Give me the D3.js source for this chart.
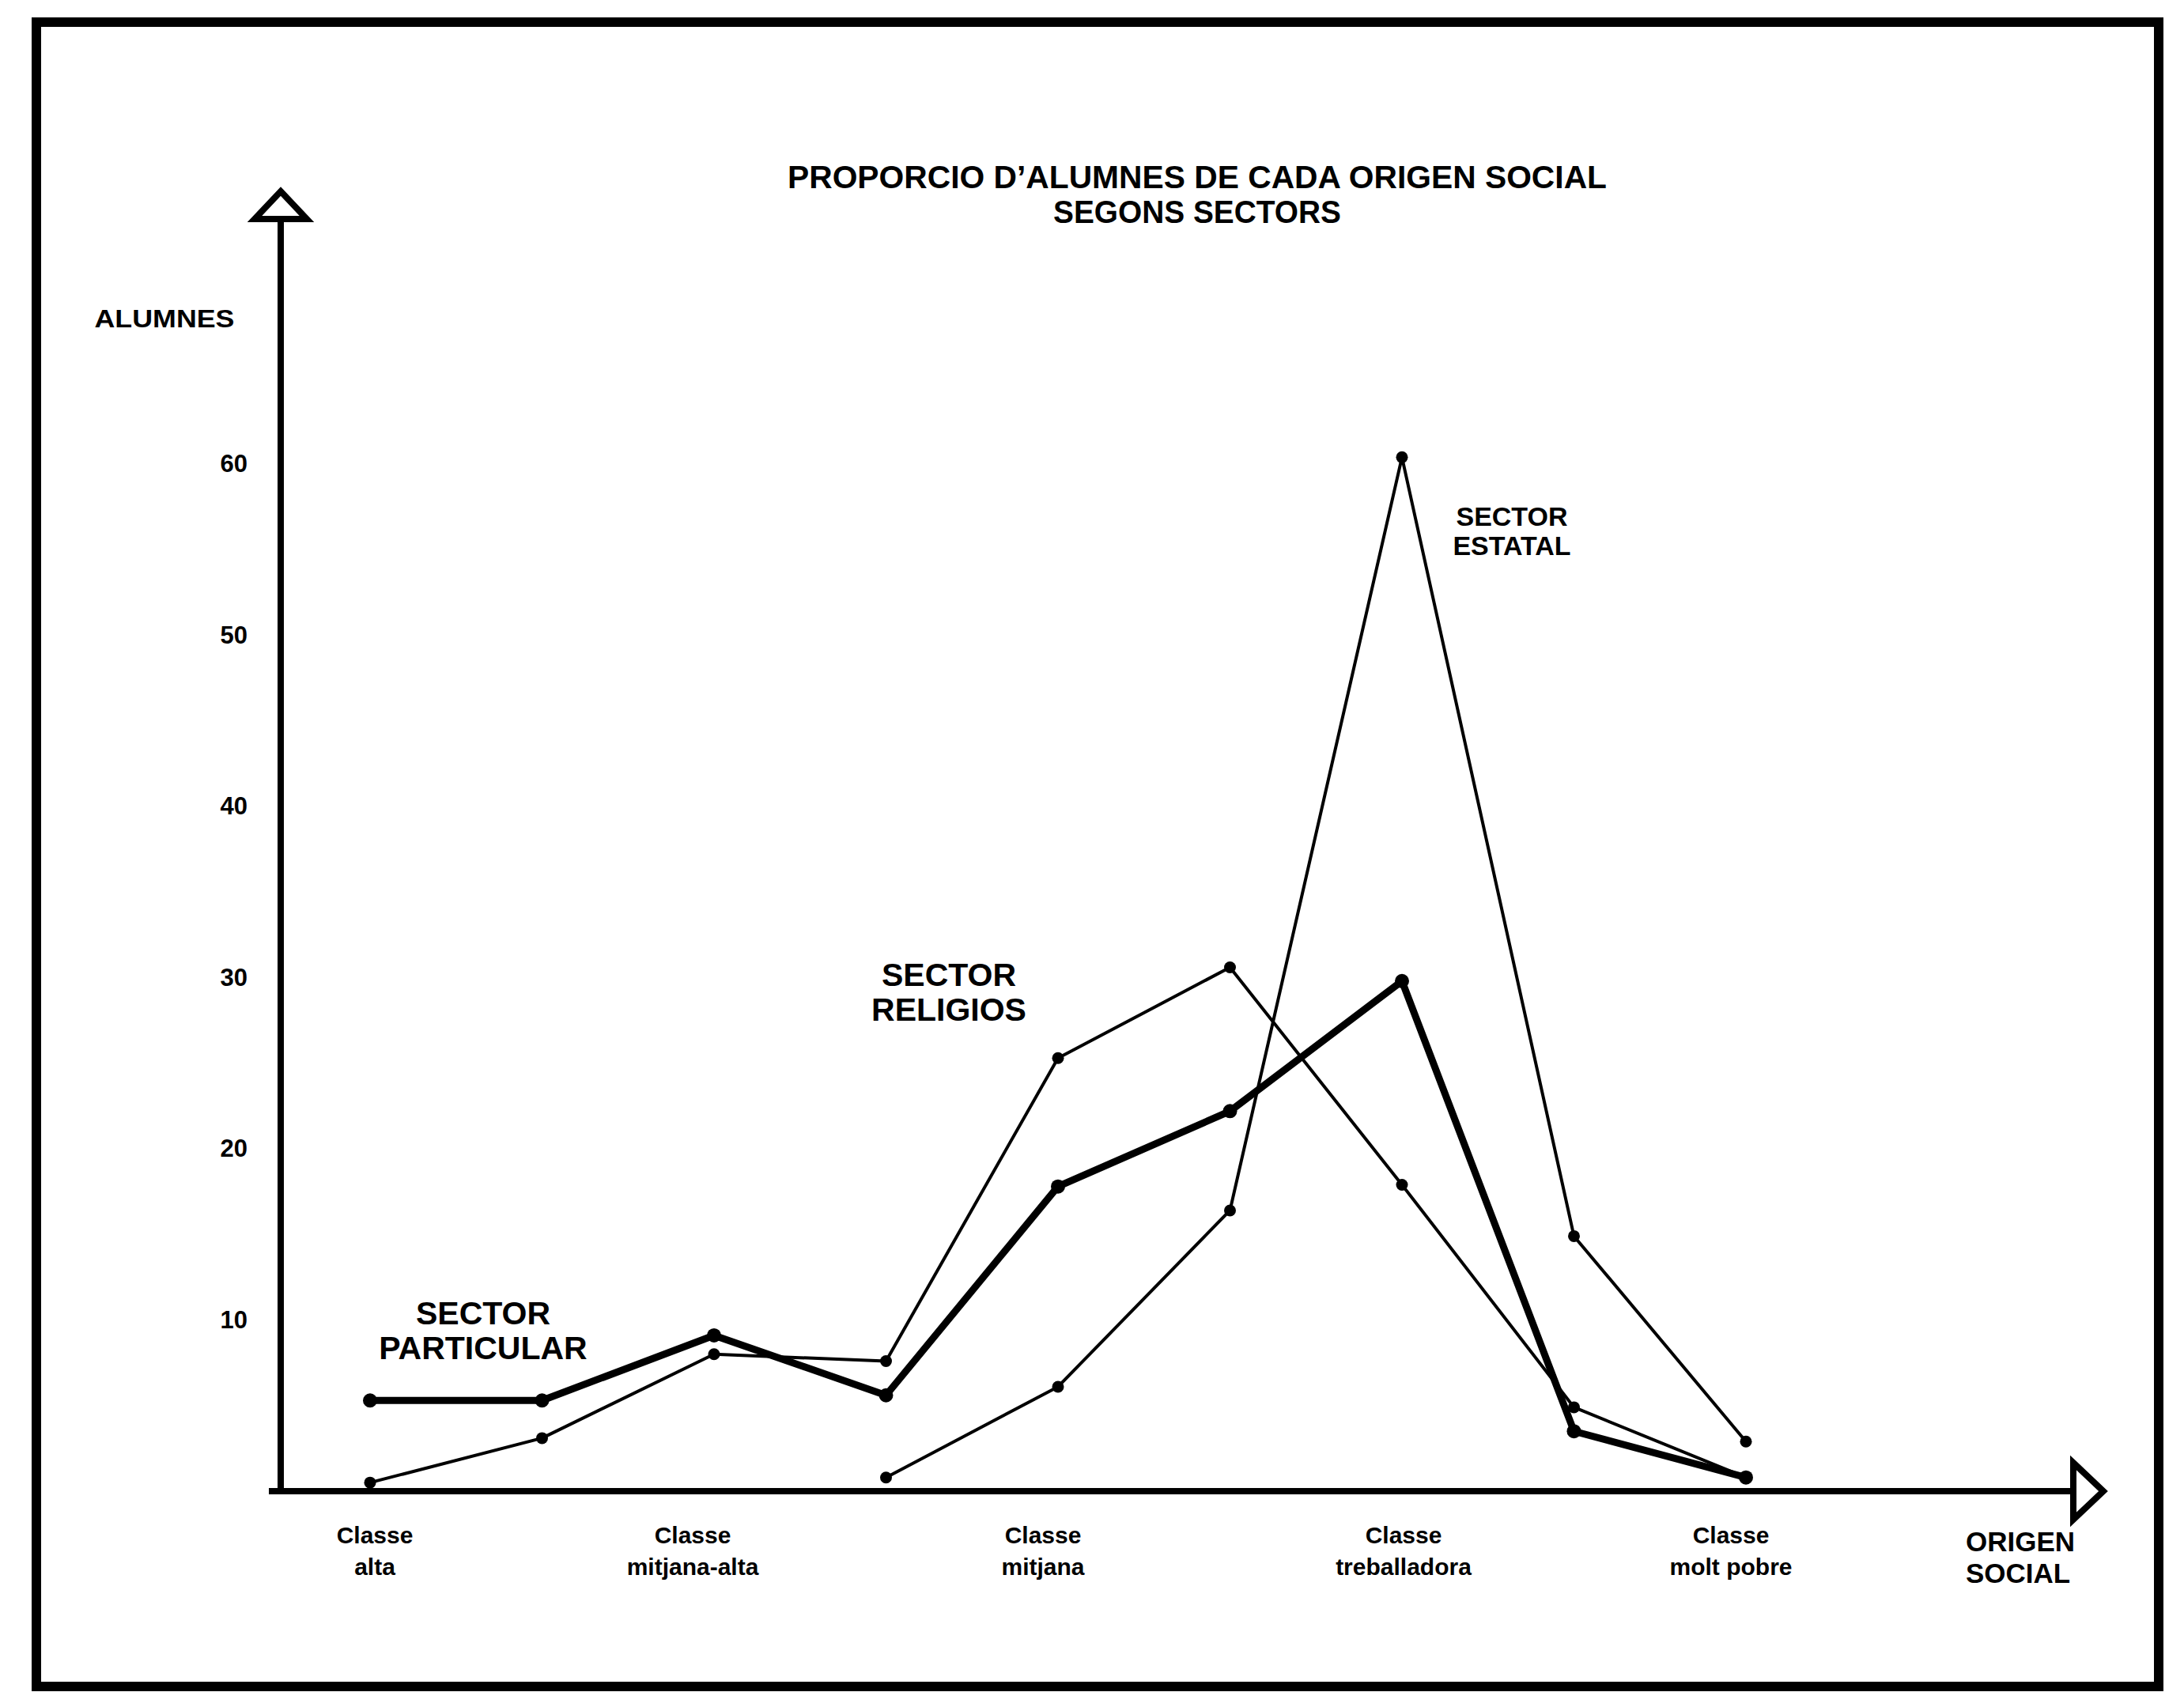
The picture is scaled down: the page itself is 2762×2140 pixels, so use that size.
<!DOCTYPE html>
<html>
<head>
<meta charset="utf-8">
<script src="https://cdn.jsdelivr.net/npm/d3@7"></script>
<style>
  body { margin: 0; background: #fff; }
  text { font-family: "Liberation Sans", Arial, sans-serif; font-weight: bold; fill: #000; }
</style>
</head>
<body>
<div id="chart"></div>
<script>
// 9 steps on the x axis: the five classes and the points between them
const steps = ['alta', 'alta/mitjana-alta', 'mitjana-alta', 'mitjana-alta/mitjana', 'mitjana',
    'mitjana/treballadora', 'treballadora', 'treballadora/molt pobre', 'molt pobre']
const classSteps = ['alta', 'mitjana-alta', 'mitjana', 'treballadora', 'molt pobre']
const classLabels = [['Classe', 'alta'], ['Classe', 'mitjana-alta'], ['Classe', 'mitjana'],
    ['Classe', 'treballadora'], ['Classe', 'molt pobre']]
const yTicks = [10, 20, 30, 40, 50, 60]

const particular = [5.3, 5.3, 9.1, 5.6, 17.8, 22.2, 29.8, 3.5, 0.8]
const religios = [0.5, 3.1, 8.0, 7.6, 25.3, 30.6, 17.9, 4.9, 0.8]
const estatal = [null, null, null, 0.8, 6.1, 16.4, 60.4, 14.9, 2.9]

const width = 2762, height = 2140

const svg = d3.select('#chart').append('svg')
    .attr('width', width)
    .attr('height', height)

svg.append('rect')
    .attr('width', width).attr('height', height)
    .attr('fill', '#fff')

// frame
svg.append('rect')
    .attr('x', 46).attr('y', 28)
    .attr('width', 2684).attr('height', 2105)
    .attr('fill', 'none')
    .attr('stroke', '#000')
    .attr('stroke-width', 12)

const x = d3.scalePoint().domain(steps).range([468, 2208])
const y = d3.scaleLinear().domain([0, 60]).range([1886, 587])

const axisX = 355

// title
svg.append('text')
    .attr('x', 1514).attr('y', 238)
    .attr('text-anchor', 'middle')
    .attr('font-size', 41)
    .attr('textLength', 1036)
    .attr('lengthAdjust', 'spacingAndGlyphs')
    .text('PROPORCIO D’ALUMNES DE CADA ORIGEN SOCIAL')
svg.append('text')
    .attr('x', 1514).attr('y', 282)
    .attr('text-anchor', 'middle')
    .attr('font-size', 41)
    .attr('textLength', 364)
    .attr('lengthAdjust', 'spacingAndGlyphs')
    .text('SEGONS SECTORS')

// y axis line with open arrow
svg.append('line')
    .attr('x1', axisX).attr('x2', axisX)
    .attr('y1', 277).attr('y2', y(0) + 4)
    .attr('stroke', '#000').attr('stroke-width', 8)
svg.append('path')
    .attr('d', `M${axisX},242 L${axisX + 33},277 L${axisX - 33},277 Z`)
    .attr('fill', '#fff').attr('stroke', '#000').attr('stroke-width', 8)

// x axis line with open arrow
svg.append('line')
    .attr('x1', 340).attr('x2', 2622)
    .attr('y1', y(0)).attr('y2', y(0))
    .attr('stroke', '#000').attr('stroke-width', 8)
svg.append('path')
    .attr('d', `M2622,${y(0) - 36} L2660,${y(0)} L2622,${y(0) + 36} Z`)
    .attr('fill', '#fff').attr('stroke', '#000').attr('stroke-width', 8)

// y tick labels
const yAxis = svg.append('g')
    .attr('transform', `translate(${axisX},0)`)
    .call(d3.axisLeft(y).tickValues(yTicks).tickSize(0).tickPadding(42))
yAxis.select('.domain').remove()
yAxis.selectAll('text')
    .attr('font-size', 31)
    .style('font-family', '"Liberation Sans", Arial, sans-serif')
    .style('font-weight', 'bold')

svg.append('text')
    .attr('x', 208).attr('y', 414)
    .attr('text-anchor', 'middle')
    .attr('font-size', 31)
    .attr('textLength', 177)
    .attr('lengthAdjust', 'spacingAndGlyphs')
    .text('ALUMNES')

// class labels, set a little off the points as in the print
const labelShift = [6, -27, -19, 2, -19]
classLabels.forEach((lines, k) => {
    lines.forEach((l, i) => {
        svg.append('text')
            .attr('x', x(classSteps[k]) + labelShift[k])
            .attr('y', 1952 + i * 40)
            .attr('text-anchor', 'middle')
            .attr('font-size', 30)
            .text(l)
    })
})

;['ORIGEN', 'SOCIAL'].forEach((l, i) => {
    svg.append('text')
        .attr('x', 2486).attr('y', 1962 + i * 40)
        .attr('font-size', 35)
        .text(l)
})

// series
const line = d3.line()
    .defined(d => d.v != null)
    .x(d => x(d.step))
    .y(d => y(d.v))

function drawSeries(values, strokeW, r) {
    let pts = values.map((v, i) => ({ step: steps[i], v: v }))
    svg.append('path')
        .datum(pts)
        .attr('d', line)
        .attr('fill', 'none')
        .attr('stroke', '#000')
        .attr('stroke-width', strokeW)
        .attr('stroke-linejoin', 'round')
    svg.append('g')
        .selectAll('circle')
        .data(pts.filter(d => d.v != null))
        .enter()
        .append('circle')
        .attr('cx', d => x(d.step))
        .attr('cy', d => y(d.v))
        .attr('r', r)
        .attr('fill', '#000')
}

drawSeries(estatal, 4, 7.5)
drawSeries(religios, 4, 7.5)
drawSeries(particular, 9, 9)

// series labels
const labels = [
    { lines: ['SECTOR', 'PARTICULAR'], x: 611, y: 1675, size: 41 },
    { lines: ['SECTOR', 'RELIGIOS'], x: 1200, y: 1247, size: 41 },
    { lines: ['SECTOR', 'ESTATAL'], x: 1912, y: 665, size: 34 }
]
labels.forEach(lb => {
    lb.lines.forEach((l, i) => {
        svg.append('text')
            .attr('x', lb.x)
            .attr('y', lb.y + i * (lb.size + 3))
            .attr('text-anchor', 'middle')
            .attr('font-size', lb.size)
            .text(l)
    })
})
</script>
</body>
</html>
